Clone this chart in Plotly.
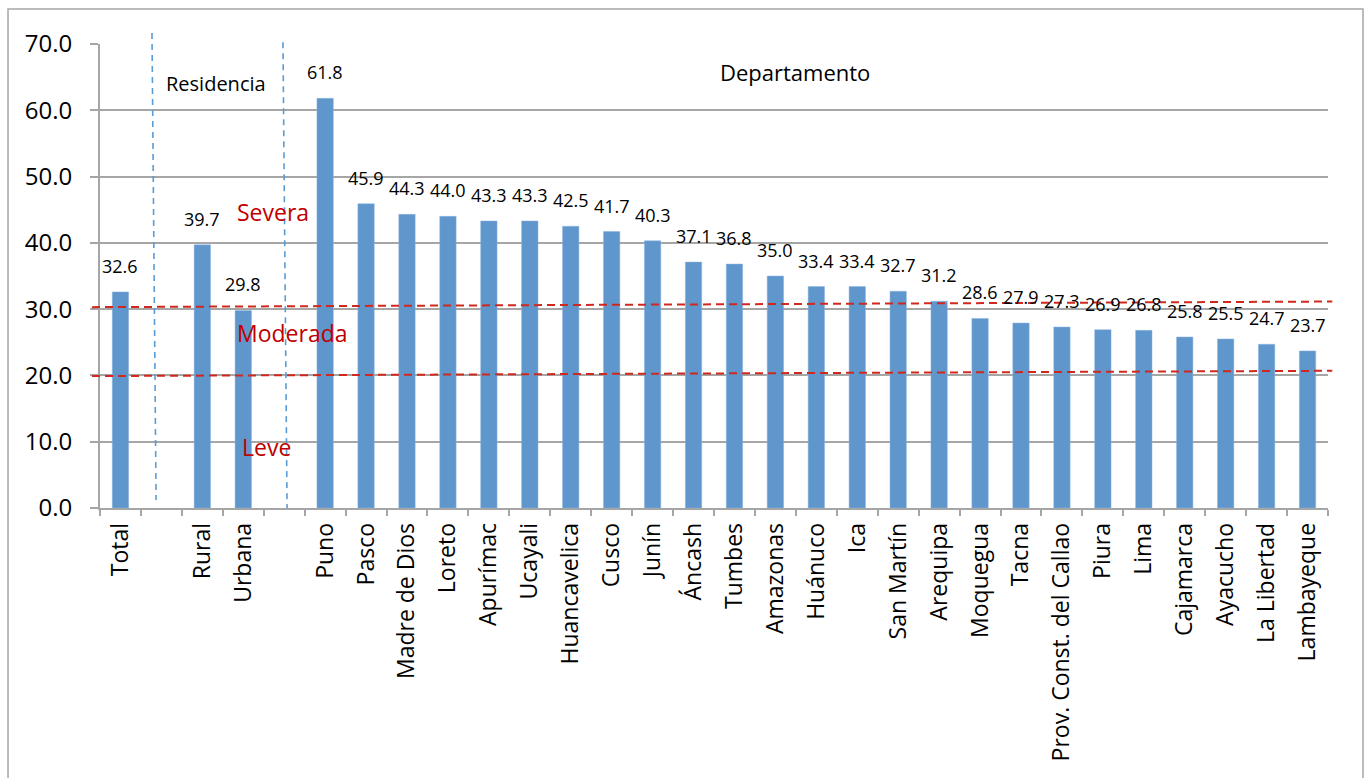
import plotly.graph_objects as go

categories = ["Total", " ", "Rural", "Urbana", "  ", "Puno", "Pasco", "Madre de Dios", "Loreto",
              "Apurímac", "Ucayali", "Huancavelica", "Cusco", "Junín", "Áncash", "Tumbes", "Amazonas",
              "Huánuco", "Ica", "San Martín", "Arequipa", "Moquegua", "Tacna",
              "Prov. Const. del Callao", "Piura", "Lima", "Cajamarca", "Ayacucho", "La Libertad",
              "Lambayeque"]
values = [32.6, None, 39.7, 29.8, None, 61.8, 45.9, 44.3, 44.0, 43.3, 43.3, 42.5, 41.7, 40.3, 37.1,
          36.8, 35.0, 33.4, 33.4, 32.7, 31.2, 28.6, 27.9, 27.3, 26.9, 26.8, 25.8, 25.5, 24.7, 23.7]

# severity thresholds (dashed red reference lines, slightly tilted as in source)
upper_threshold = [30.3, 31.15]
lower_threshold = [19.9, 20.7]
# group separators (category index positions, top/bottom)
separators = [(0.77, 0.87), (3.97, 4.07)]

FONT = "Open Sans"
BAR = "#5F96CB"
RED = "#C00000"

fig = go.Figure()
fig.add_trace(go.Bar(x=categories, y=values, marker=dict(color=BAR, line=dict(color="#8DB4E2", width=0.5)),
                     width=0.4, hoverinfo="x+y"))

annotations = []
for c, v in zip(categories, values):
    if v is None:
        continue
    annotations.append(dict(x=c, y=v, xref="x", yref="y", text=f"{v:.1f}", showarrow=False,
                            yanchor="bottom", yshift=12, font=dict(family=FONT, size=18, color="black")))

texts = [("Residencia", 0.0945, 0.914, 20, "black"), ("Departamento", 0.566, 0.9397, 22, "black"),
         ("Severa", 0.1409, 0.638, 23, RED), ("Moderada", 0.157, 0.377, 23, RED),
         ("Leve", 0.1352, 0.1315, 23, RED)]
for t, x, y, s, col in texts:
    annotations.append(dict(x=x, y=y, xref="paper", yref="paper", text=t, showarrow=False,
                            xanchor="center", yanchor="middle", font=dict(family=FONT, size=s, color=col)))

shapes = []
# outer chart frame
shapes.append(dict(type="rect", xref="paper", yref="paper", x0=-0.0749, x1=1.0285, y0=-0.60, y1=1.0754,
                   line=dict(color="#A6A6A6", width=1.5), layer="below"))
for (a, b), (ytop, ybot) in zip(separators, [(1.0237, 0.0172), (1.004, 0.0)]):
    shapes.append(dict(type="line", xref="x", yref="paper", x0=a, x1=b, y0=ytop, y1=ybot,
                       line=dict(color="#5B9BD5", width=1.6, dash="6px,5px")))
for th in (upper_threshold, lower_threshold):
    shapes.append(dict(type="line", xref="paper", yref="y", x0=-0.0065, x1=1.0035, y0=th[0], y1=th[1],
                       line=dict(color="#D0281E", width=2, dash="8px,5px")))

fig.update_layout(
    width=1371, height=778,
    margin=dict(l=100, r=43, t=44, b=270),
    paper_bgcolor="white", plot_bgcolor="white",
    showlegend=False, bargap=0.6,
    annotations=annotations, shapes=shapes,
    font=dict(family=FONT, color="black"),
    xaxis=dict(type="category", tickangle=-90, tickfont=dict(family=FONT, size=23, color="black"),
               showline=True, linecolor="#A6A6A6", linewidth=1.5, ticks="outside", tickson="boundaries",
               ticklen=6, tickcolor="#A6A6A6", tickwidth=1.5, showgrid=False, ticklabelstandoff=4),
    yaxis=dict(range=[0, 70], dtick=10, tickformat=".1f", tickfont=dict(family=FONT, size=24, color="black"),
               showline=True, linecolor="#A6A6A6", linewidth=2, ticks="outside", ticklen=8,
               tickcolor="#A6A6A6", tickwidth=2, showgrid=True, gridcolor="#A6A6A6", gridwidth=2,
               zeroline=False, ticklabelstandoff=13),
)

fig.write_html("out.html")
